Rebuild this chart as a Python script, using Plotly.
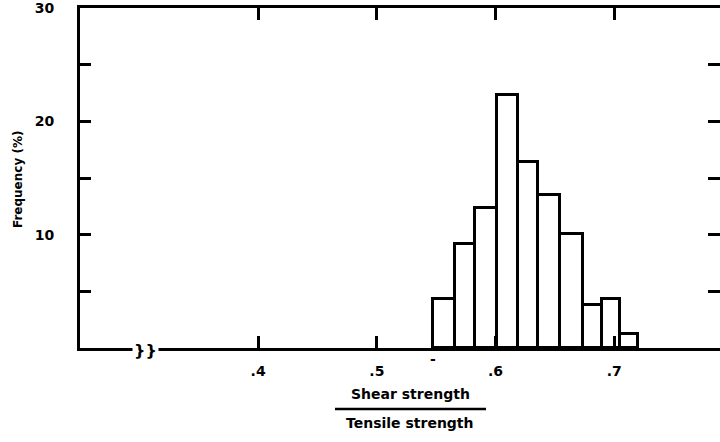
import plotly.graph_objects as go

# Histogram data (ratio shear strength / tensile strength)
bin_left = [0.547, 0.566, 0.583, 0.601, 0.619, 0.636, 0.654, 0.674, 0.690, 0.705]
bin_right = [0.566, 0.583, 0.601, 0.619, 0.636, 0.654, 0.674, 0.690, 0.705, 0.720]
freq = [4.3, 9.2, 12.4, 22.3, 16.4, 13.5, 10.1, 3.8, 4.3, 1.2]

x_tick_vals = [0.4, 0.5, 0.6, 0.7]
x_tick_text = [".4", ".5", ".6", ".7"]
y_tick_vals = [5, 10, 15, 20, 25, 30]
y_tick_text = ["", "10", "", "20", "", "30"]

centers = [(a + b) / 2 for a, b in zip(bin_left, bin_right)]
widths = [b - a for a, b in zip(bin_left, bin_right)]

fig = go.Figure()
fig.add_trace(go.Bar(
    x=centers, y=freq, width=widths,
    marker=dict(color="white", line=dict(color="black", width=3)),
    showlegend=False, hoverinfo="skip",
))
fig.add_trace(go.Scatter(x=[0.3], y=[0], yaxis="y2", mode="markers",
                         marker=dict(opacity=0), showlegend=False, hoverinfo="skip"))

fig.update_layout(
    width=720, height=442,
    margin=dict(l=80, r=0, t=8, b=94, autoexpand=False),
    paper_bgcolor="white", plot_bgcolor="white",
    font=dict(family="DejaVu Sans", color="black"),
    bargap=0,
    xaxis=dict(
        range=[0.25, 0.789], domain=[0, 1], automargin=False,
        tickvals=x_tick_vals,
        ticktext=["<b>%s</b>" % t for t in x_tick_text],
        ticks="inside", ticklen=12, tickwidth=2.5, tickcolor="black",
        showline=True, linecolor="black", linewidth=3, mirror="ticks",
        showgrid=False, zeroline=False,
        tickfont=dict(size=14, family="DejaVu Sans", color="black"),
        ticklabelstandoff=8,
    ),
    yaxis=dict(
        range=[0, 30.02], automargin=False,
        tickvals=y_tick_vals,
        ticktext=["<b>%s</b>" % t for t in y_tick_text],
        ticks="inside", ticklen=11, tickwidth=2.5, tickcolor="black",
        showline=True, linecolor="black", linewidth=3,
        showgrid=False, zeroline=False,
        tickfont=dict(size=14, family="DejaVu Sans", color="black"),
        ticklabelstandoff=20, ticklabeloverflow="allow",
    ),
    yaxis2=dict(
        range=[0, 30.02], overlaying="y", side="right", automargin=False,
        tickvals=[5, 10, 15, 20, 25], ticks="inside", ticklen=12, tickwidth=2.5,
        tickcolor="black", showticklabels=False, showline=False, showgrid=False,
        zeroline=False,
    ),
)

def px_x(p):
    return (p - 80) / 640

def px_y(p):
    return (348 - p) / 340

# y-axis title
fig.add_annotation(x=px_x(18), y=px_y(180), xref="paper", yref="paper",
                   xanchor="center", yanchor="middle",
                   text="<b>Frequency (%)</b>", textangle=-90, showarrow=False,
                   font=dict(size=12, family="DejaVu Sans"))

# axis break symbol
fig.add_annotation(x=0.305, y=0, xref="x", yref="y", text="<b>}}</b>", showarrow=False,
                   xanchor="center", yanchor="middle",
                   font=dict(size=16, family="DejaVu Sans", color="black"),
                   bgcolor="white", yshift=-2)

# small dash mark below the axis
fig.add_annotation(x=0.547, y=0, xref="x", yref="y", text="<b>-</b>", showarrow=False,
                   xanchor="center", yanchor="middle", yshift=-11,
                   font=dict(size=14, family="DejaVu Sans", color="black"))

# x-axis title as a fraction
fig.add_annotation(x=px_x(410), y=px_y(394), xref="paper", yref="paper",
                   xanchor="center", yanchor="middle",
                   text="<b>Shear strength</b>", showarrow=False,
                   font=dict(size=14, family="DejaVu Sans"))
fig.add_annotation(x=px_x(410), y=px_y(423), xref="paper", yref="paper",
                   xanchor="center", yanchor="middle",
                   text="<b>Tensile strength</b>", showarrow=False,
                   font=dict(size=14, family="DejaVu Sans"))
fig.add_shape(type="line", xref="paper", yref="paper",
              x0=px_x(335), x1=px_x(486), y0=px_y(409), y1=px_y(409),
              line=dict(color="black", width=2.5))

fig.write_html("out.html", config={"displayModeBar": False},
               post_script="document.body.style.margin='0';")
